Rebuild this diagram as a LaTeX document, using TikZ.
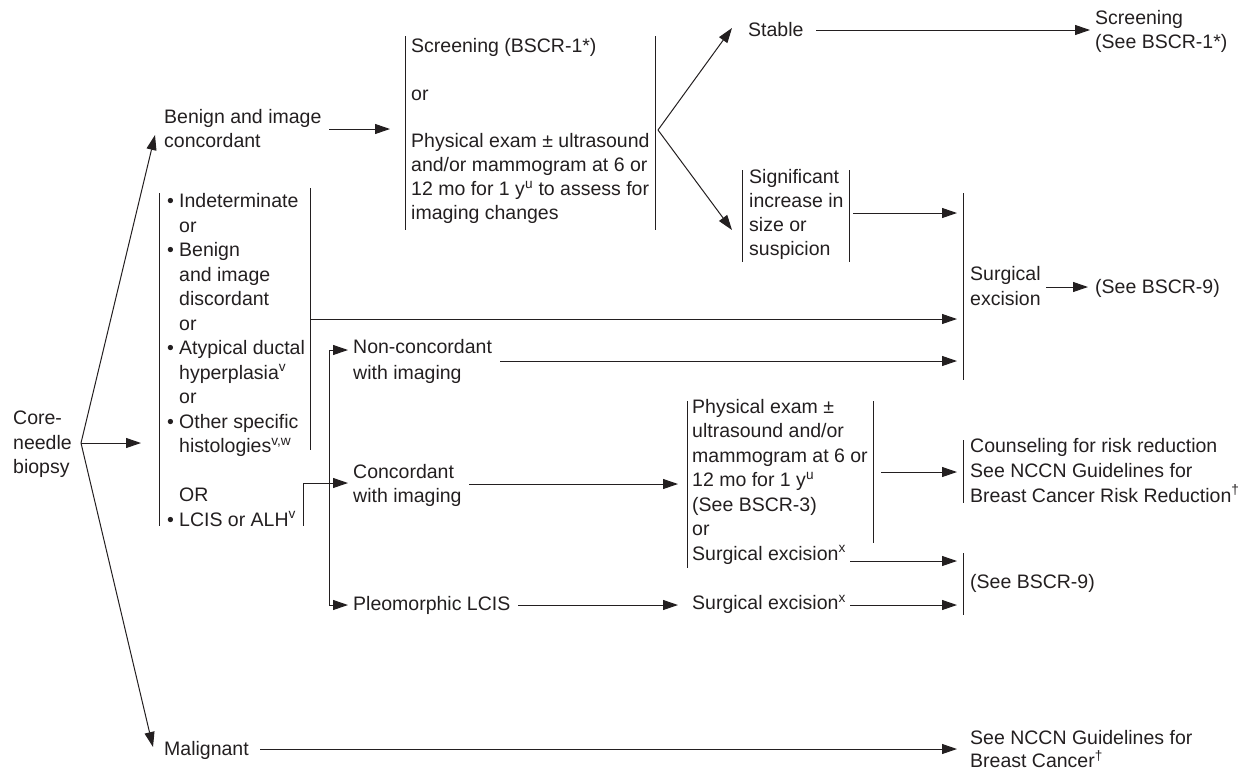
\documentclass[tikz,border=0pt]{standalone}
\usepackage{fontspec}
\setmainfont{Liberation Sans}
\usetikzlibrary{arrows.meta}
\definecolor{ink}{HTML}{231F20}
\begin{document}
\begin{tikzpicture}[x=1pt,y=-1pt,
  txt/.style={inner sep=0pt, anchor=west, align=left, text=ink,
    font=\fontsize{19.5}{24.2}\selectfont,
    execute at begin node=\strut, execute at end node=\strut},
  sp/.style={font=\fontsize{19.5}{#1}\selectfont},
  bar/.style={draw=ink, line width=1pt},
  conn/.style={draw=ink, line width=1pt},
  arr/.style={conn, -{Triangle[length=15pt,width=10pt]}},
]
\useasboundingbox (0,0) rectangle (1249,772);

% ---------- text blocks ----------
\node[txt] (core) at (13,446) {Core-\\needle\\biopsy};
\node[txt] (benign) at (164,132) {Benign and image\\concordant};
\node[txt,sp=23.9] (screen) at (411,132.5) {Screening (BSCR-1*)\\\mbox{}\\or\\\mbox{}\\Physical exam ± ultrasound\\and/or mammogram at 6 or\\12 mo for 1 y\textsuperscript{u} to assess for\\imaging changes};
\node[txt] (stable) at (748,32) {Stable};
\node[txt] (scr2) at (1095,33) {Screening\\(See BSCR-1*)};
\node[txt,sp=24] (signif) at (749,216) {Significant\\increase in\\size or\\suspicion};
\node[txt,sp=24.5] (indet) at (167,363.5) {%
\makebox[12pt][l]{•}Indeterminate\\
\hspace*{12pt}or\\
\makebox[12pt][l]{•}Benign\\
\hspace*{12pt}and image\\
\hspace*{12pt}discordant\\
\hspace*{12pt}or\\
\makebox[12pt][l]{•}Atypical ductal\\
\hspace*{12pt}hyperplasia\textsuperscript{v}\\
\hspace*{12pt}or\\
\makebox[12pt][l]{•}Other specific\\
\hspace*{12pt}histologies\textsuperscript{v,w}\\
\mbox{}\\
\hspace*{12pt}OR\\
\makebox[12pt][l]{•}LCIS or ALH\textsuperscript{v}};
\node[txt,sp=26] (noncon) at (353,363) {Non-concordant\\with imaging};
\node[txt,sp=24] (concord) at (353,487.5) {Concordant\\with imaging};
\node[txt] (pleo) at (353,606) {Pleomorphic LCIS};
\node[txt,sp=24.5] (phys) at (692,483.5) {Physical exam ±\\ultrasound and/or\\mammogram at 6 or\\12 mo for 1 y\textsuperscript{u}\\(See BSCR-3)\\or\\Surgical excision\textsuperscript{x}};
\node[txt] (surg2) at (692,605) {Surgical excision\textsuperscript{x}};
\node[txt,sp=25] (counsel) at (970,474) {Counseling for risk reduction\\See NCCN Guidelines for\\Breast Cancer Risk Reduction\textsuperscript{†}};
\node[txt] (see9b) at (970,584) {(See BSCR-9)};
\node[txt,sp=25] (surgex) at (970,289.5) {Surgical\\excision};
\node[txt] (see9a) at (1095,289) {(See BSCR-9)};
\node[txt] (malig) at (164,751) {Malignant};
\node[txt,sp=23] (nccn) at (970,752.5) {See NCCN Guidelines for\\Breast Cancer\textsuperscript{†}};

% ---------- side bars of the grouped blocks ----------
\draw[bar] (405,36) -- (405,230);   \draw[bar] (655,36) -- (655,230);
\draw[bar] (742,170) -- (742,262);  \draw[bar] (849,170) -- (849,262);
\draw[bar] (159,193) -- (159,526);  \draw[bar] (310,188) -- (310,450);
\draw[bar] (303,483) -- (303,526);
\draw[bar] (687,401) -- (687,568);  \draw[bar] (873,401) -- (873,543);
\draw[bar] (963,193) -- (963,380);
\draw[bar] (963,440) -- (963,503);
\draw[bar] (963,553) -- (963,615);

% ---------- junction and end points ----------
\coordinate (v0) at (81,443);
\coordinate (tBenign) at (155,135);
\coordinate (tMalig) at (153,747);
\coordinate (tIndet) at (141,443);
\coordinate (benignOut) at (329,129);  \coordinate (screenIn) at (390,129);
\coordinate (v1) at (658,130);
\coordinate (tStable) at (732,28);     \coordinate (tSignif) at (732,230);
\coordinate (stableOut) at (816,30);   \coordinate (scrIn) at (1090,30);
\coordinate (signifOut) at (853,213);  \coordinate (sxIn1) at (957,213);
\coordinate (indetOut) at (310,319);   \coordinate (sxIn2) at (957,319);
\coordinate (nonconOut) at (500,361);  \coordinate (sxIn3) at (957,361);
\coordinate (sxOut) at (1046,287);     \coordinate (see9aIn) at (1088,287);
\coordinate (lcisOut) at (303,483);    \coordinate (concordIn) at (348,483);
\coordinate (elbowTop) at (329,350);   \coordinate (elbowBot) at (329,605);
\coordinate (nonconIn) at (348,350);   \coordinate (pleoIn) at (348,605);
\coordinate (concordOut) at (469,484); \coordinate (physIn) at (678,484);
\coordinate (pleoOut) at (518,605);    \coordinate (surg2In) at (678,605);
\coordinate (physOut) at (881,472);    \coordinate (counselIn) at (957,472);
\coordinate (surg1Out) at (850,561);   \coordinate (see9bIn1) at (957,561);
\coordinate (surg2Out) at (850,605);   \coordinate (see9bIn2) at (957,605);
\coordinate (maligOut) at (260,749);   \coordinate (nccnIn) at (957,749);

% ---------- connectors ----------
\draw[arr] (v0) -- (tBenign);
\draw[arr] (v0) -- (tIndet);
\draw[arr] (v0) -- (tMalig);
\draw[arr] (benignOut) -- (screenIn);
\draw[arr] (v1) -- (tStable);
\draw[arr] (v1) -- (tSignif);
\draw[arr] (stableOut) -- (scrIn);
\draw[arr] (signifOut) -- (sxIn1);
\draw[arr] (indetOut) -- (sxIn2);
\draw[arr] (nonconOut) -- (sxIn3);
\draw[arr] (sxOut) -- (see9aIn);
\draw[arr] (lcisOut) -- (concordIn);
\draw[arr] (elbowBot) -- (elbowTop) -- (nonconIn);
\draw[arr] (elbowBot) -- (pleoIn);
\draw[arr] (concordOut) -- (physIn);
\draw[arr] (pleoOut) -- (surg2In);
\draw[arr] (physOut) -- (counselIn);
\draw[arr] (surg1Out) -- (see9bIn1);
\draw[arr] (surg2Out) -- (see9bIn2);
\draw[arr] (maligOut) -- (nccnIn);
\end{tikzpicture}
\end{document}
